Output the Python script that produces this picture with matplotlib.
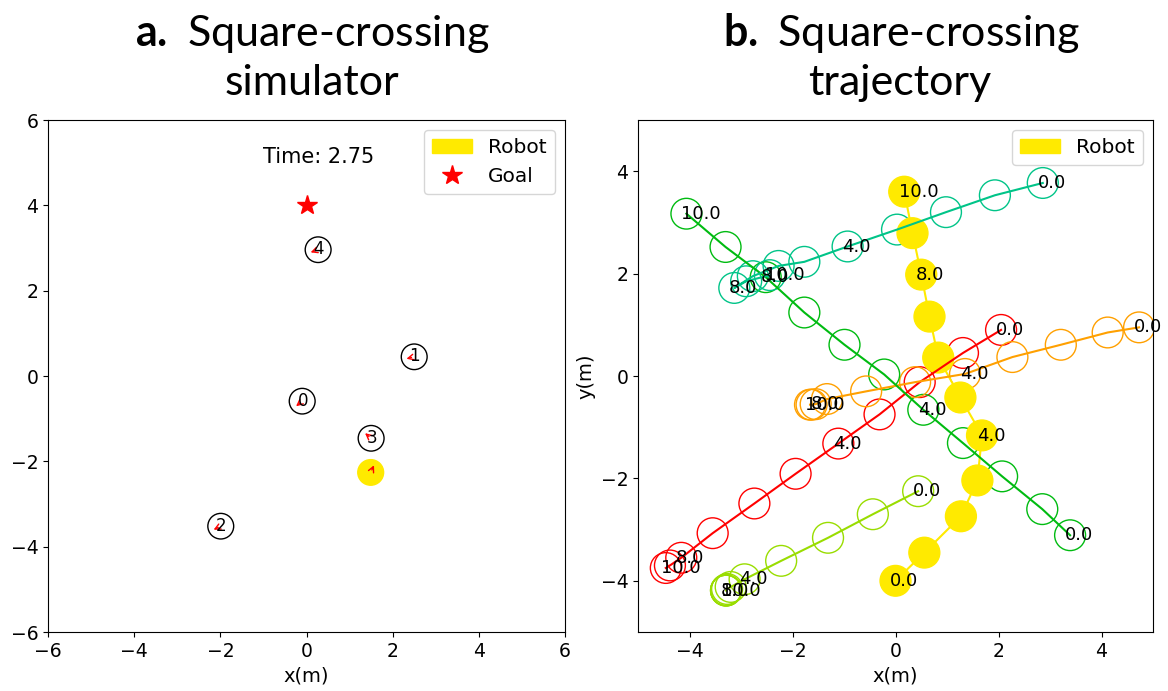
import matplotlib
matplotlib.use("Agg")
import matplotlib.pyplot as plt
import matplotlib.patches as patches
import matplotlib.lines as mlines
import numpy as np

plt.rcParams['mathtext.fontset'] = 'custom'
plt.rcParams['mathtext.rm'] = 'Lato'
plt.rcParams['mathtext.bf'] = 'Lato:bold'

# --- panel a: simulator snapshot ---
sim_time = 2.75
goal = (0.0, 4.0)
robot_pos = (1.49, -2.26)
robot_vel = (0.32, 0.70)
human_x = [-0.10, 2.50, -1.99, 1.50, 0.27]
human_y = [-0.59, 0.45, -3.52, -1.46, 2.96]
human_vx = [-0.78, -0.94, -0.91, -0.76, -0.95]
human_vy = [-0.65, -0.24, -0.45, 0.65, -0.34]
radius = 0.3

# --- panel b: trajectories, one sample per second ---
times = [0, 1, 2, 3, 4, 5, 6, 7, 8, 9, 10]
label_times = [0, 4, 8, 10]
robot_traj_x = [0.00, 0.56, 1.27, 1.59, 1.68, 1.26, 0.83, 0.66, 0.50, 0.33, 0.17]
robot_traj_y = [-4.00, -3.45, -2.74, -2.04, -1.16, -0.42, 0.36, 1.16, 1.98, 2.79, 3.60]
human_traj_x = [
    [2.05, 1.31, 0.47, -0.31, -1.11, -1.94, -2.74, -3.55, -4.16, -4.38, -4.46],
    [4.73, 4.12, 3.21, 2.27, 1.35, 0.38, -0.57, -1.33, -1.55, -1.63, -1.66],
    [0.44, -0.44, -1.31, -2.22, -2.93, -3.20, -3.27, -3.29, -3.29, -3.29, -3.29],
    [3.39, 2.85, 2.07, 1.31, 0.54, -0.22, -0.99, -1.77, -2.52, -3.30, -4.06],
    [2.86, 1.93, 0.98, 0.03, -0.93, -1.77, -2.27, -2.77, -3.13, -2.90, -2.44],
]
human_traj_y = [
    [0.90, 0.45, -0.12, -0.75, -1.32, -1.91, -2.49, -3.07, -3.55, -3.70, -3.75],
    [0.95, 0.85, 0.61, 0.37, 0.04, -0.12, -0.30, -0.45, -0.55, -0.56, -0.56],
    [-2.25, -2.70, -3.16, -3.61, -3.97, -4.12, -4.16, -4.18, -4.19, -4.19, -4.19],
    [-3.11, -2.60, -1.96, -1.31, -0.66, 0.03, 0.61, 1.24, 1.93, 2.52, 3.17],
    [3.77, 3.53, 3.20, 2.86, 2.53, 2.23, 2.15, 1.95, 1.72, 1.85, 1.97],
]
human_colors = ['#ff0000', '#ffa000', '#99dd00', '#00bb11', '#00c488']
robot_color = '#ffea00'

fig = plt.figure(figsize=(11.68, 6.91), dpi=100)
ax1 = fig.add_axes([48 / 1168, 1 - 632 / 691, 517 / 1168, 512 / 691])
ax2 = fig.add_axes([638 / 1168, 1 - 632 / 691, 515 / 1168, 512 / 691])

# panel a
arrow_style = patches.ArrowStyle("->", head_length=4, head_width=2)
robot = plt.Circle(robot_pos, radius, fill=True, color=robot_color)
ax1.add_artist(robot)
theta = np.arctan2(robot_vel[1], robot_vel[0])
ax1.add_artist(patches.FancyArrowPatch(robot_pos, (robot_pos[0] + 0.25 * np.cos(theta),
                                                   robot_pos[1] + 0.25 * np.sin(theta)),
                                       color='red', arrowstyle=arrow_style))
ax1.plot(goal[0], goal[1], color='red', marker='*', linestyle='None', markersize=15)
for i in range(len(human_x)):
    ax1.add_artist(plt.Circle((human_x[i], human_y[i]), radius, fill=False, color='black'))
    th = np.arctan2(human_vy[i], human_vx[i])
    ax1.add_artist(patches.FancyArrowPatch((human_x[i], human_y[i]),
                                           (human_x[i] + 0.25 * np.cos(th), human_y[i] + 0.25 * np.sin(th)),
                                           color='red', arrowstyle=arrow_style))
    ax1.text(human_x[i] - 0.11, human_y[i] - 0.11, str(i), color='black', fontsize=12)
ax1.text(-1, 5, 'Time: {}'.format(sim_time), fontsize=15)
ax1.set_xlim(-6, 6)
ax1.set_ylim(-6, 6)
ax1.set_xlabel('x(m)', fontsize=14)
ax1.tick_params(labelsize=13.5)
goal_handle = mlines.Line2D([], [], color='red', marker='*', linestyle='None', markersize=15)
ax1.legend([robot, goal_handle], ['Robot', 'Goal'], fontsize=14.5, loc='upper right')

# panel b
for k in range(len(times)):
    rc = plt.Circle((robot_traj_x[k], robot_traj_y[k]), radius, fill=True, color=robot_color)
    ax2.add_artist(rc)
    for i in range(len(human_traj_x)):
        ax2.add_artist(plt.Circle((human_traj_x[i][k], human_traj_y[i][k]), radius,
                                  fill=False, color=human_colors[i]))
    if times[k] in label_times:
        ax2.text(robot_traj_x[k] - 0.1, robot_traj_y[k] - 0.1, '{:.1f}'.format(times[k]),
                 color='black', fontsize=13)
        for i in range(len(human_traj_x)):
            ax2.text(human_traj_x[i][k] - 0.1, human_traj_y[i][k] - 0.1, '{:.1f}'.format(times[k]),
                     color='black', fontsize=13)
robot_circle = rc
ax2.plot(robot_traj_x, robot_traj_y, color=robot_color, lw=1.5)
for i in range(len(human_traj_x)):
    ax2.plot(human_traj_x[i], human_traj_y[i], color=human_colors[i], lw=1.5)
ax2.set_xlim(-5, 5)
ax2.set_ylim(-5, 5)
ax2.set_xticks([-4, -2, 0, 2, 4])
ax2.set_yticks([-4, -2, 0, 2, 4])
ax2.set_xlabel('x(m)', fontsize=14)
ax2.set_ylabel('y(m)', fontsize=14)
ax2.tick_params(labelsize=13.5)
ax2.legend([robot_circle], ['Robot'], fontsize=14.5, loc='upper right')

# titles
fig.text(312 / 1168, 1 - 46 / 691, r'$\mathbf{a.}\;$Square-crossing', family='Lato',
         fontsize=31, ha='center', va='baseline')
fig.text(312 / 1168, 1 - 95 / 691, 'simulator', family='Lato', fontsize=31, ha='center', va='baseline')
fig.text(902 / 1168, 1 - 46 / 691, r'$\mathbf{b.}\;$Square-crossing', family='Lato',
         fontsize=31, ha='center', va='baseline')
fig.text(900 / 1168, 1 - 95 / 691, 'trajectory', family='Lato', fontsize=31, ha='center', va='baseline')

fig.savefig('out.png', dpi=100)
